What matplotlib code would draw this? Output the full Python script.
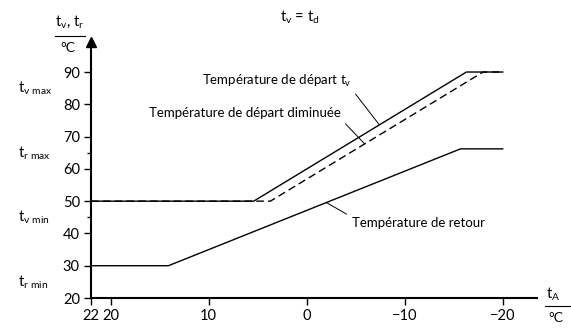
"""
Courbe de chauffe : température de départ / retour en fonction de la température extérieure
"""
import matplotlib
matplotlib.use('Agg')
import matplotlib.pyplot as plt

plt.rcParams['font.family'] = ['Lato', 'DejaVu Sans']
plt.rcParams['mathtext.default'] = 'regular'

# Données (t_A en °C, t en °C)
ta_depart = [22, 5.4, -16.3, -20]
t_depart = [50, 50, 90, 90]

ta_diminuee = [22, 3.7, -18.0, -20]
t_diminuee = [50, 50, 90, 90]

ta_retour = [22, 14.1, -15.7, -20]
t_retour = [30, 30, 66.2, 66.2]

x_ticks = [22, 20, 10, 0, -10, -20]
x_ticklabels = ['22', '20', '10', '0', '\u221210', '\u221220']
y_ticks = [20, 30, 40, 50, 60, 70, 80, 90]
y_minor = [45, 65]

W, H = 571, 329
fig = plt.figure(figsize=(W / 100, H / 100), dpi=100)
ax = fig.add_axes([91 / W, 1 - 298 / H, (537 - 91) / W, (298 - 42) / H])

ax.plot(ta_depart, t_depart, color='black', lw=1.0)
ax.plot(ta_diminuee, t_diminuee, color='black', lw=1.0, linestyle=(0, (5.5, 3)))
ax.plot(ta_retour, t_retour, color='black', lw=1.0)

ax.set_xlim(22, -23.5)
ax.set_ylim(20, 99.3)

for s in ['top', 'right']:
    ax.spines[s].set_visible(False)
for s in ['left', 'bottom']:
    ax.spines[s].set_linewidth(1.5)

# flèches des axes
ax.plot(1, 0, marker='>', color='black', markersize=7,
        transform=ax.get_yaxis_transform(), clip_on=False)
ax.plot(22, 1, marker='^', color='black', markersize=7,
        transform=ax.get_xaxis_transform(), clip_on=False)

ax.set_xticks(x_ticks)
ax.set_xticklabels(x_ticklabels, fontsize=10.5)
ax.set_yticks(y_ticks)
ax.set_yticklabels([str(v) for v in y_ticks], fontsize=10.5)
ax.set_yticks(y_minor, minor=True)
ax.tick_params(axis='both', which='major', direction='out', length=5, width=1.0, pad=3)
ax.tick_params(axis='y', which='minor', direction='out', length=3, width=1.0)

# Annotations des courbes
ax.annotate('Température de départ $t_v$', xy=(-7.4, 73.7), xytext=(-4.6, 87.2),
            ha='right', va='center', fontsize=9.5,
            arrowprops=dict(arrowstyle='-', color='black', lw=0.7,
                            shrinkA=2, shrinkB=0, relpos=(1.0, 0.0)))
ax.annotate('Température de départ diminuée', xy=(-5.9, 67.8), xytext=(-3.5, 77.3),
            ha='right', va='center', fontsize=9.5,
            arrowprops=dict(arrowstyle='-', color='black', lw=0.7,
                            shrinkA=2, shrinkB=0, relpos=(1.0, 0.0)))
ax.annotate('Température de retour', xy=(-2.0, 49.6), xytext=(-4.6, 43.2),
            ha='left', va='center', fontsize=9.5,
            arrowprops=dict(arrowstyle='-', color='black', lw=0.7,
                            shrinkA=2, shrinkB=0, relpos=(0.0, 1.0)))

# Libellés hors des axes (coordonnées en pixels de la figure)
def ftext(x, y, s, **kw):
    fig.text(x / W, 1 - y / H, s, **kw)

ftext(300, 17, '$t_v$ = $t_d$', ha='center', va='center', fontsize=10.5)

ftext(70, 22, '$t_v$, $t_r$', ha='center', va='center', fontsize=10.5)
fig.add_artist(plt.Line2D([55 / W, 85 / W], [1 - 36 / H, 1 - 36 / H], color='black', lw=0.8))
ftext(68, 48, '°C', ha='center', va='center', fontsize=10)

ftext(553, 294, '$t_A$', ha='center', va='center', fontsize=10.5)
fig.add_artist(plt.Line2D([545 / W, 570 / W], [1 - 306 / H, 1 - 306 / H], color='black', lw=0.8))
ftext(556, 318, '°C', ha='center', va='center', fontsize=10)

ftext(18, 88, '$t_{v\\ max}$', ha='left', va='center', fontsize=10.5)
ftext(18, 153, '$t_{r\\ max}$', ha='left', va='center', fontsize=10.5)
ftext(18, 217, '$t_{v\\ min}$', ha='left', va='center', fontsize=10.5)
ftext(18, 282, '$t_{r\\ min}$', ha='left', va='center', fontsize=10.5)

fig.savefig('out.png', dpi=100)
